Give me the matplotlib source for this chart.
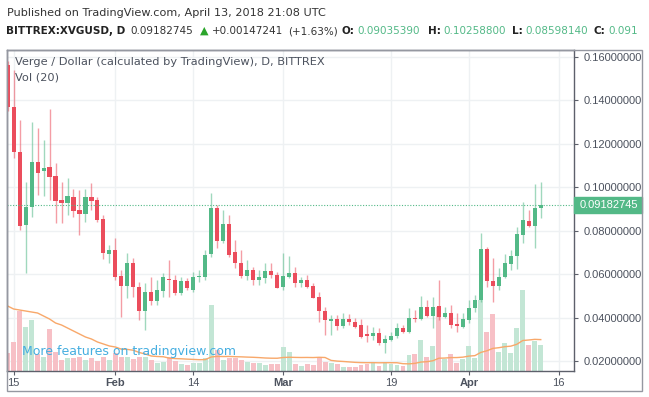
import numpy as np
import pandas as pd
import matplotlib
matplotlib.use('Agg')
import matplotlib.pyplot as plt
import matplotlib.dates as mdates
from matplotlib import transforms
from matplotlib.patches import Rectangle

# daily candles, BITTREX:XVGUSD, Jan 14 - Apr 13 2018
dates = pd.date_range('2018-01-14', '2018-04-13', freq='D')

opens = [0.1563, 0.1368, 0.1164, 0.0828, 0.0910, 0.1115, 0.1073, 0.1092, 0.1052, 0.0941,
         0.0929, 0.0955, 0.0895, 0.0877, 0.0955, 0.0941, 0.0852, 0.0694,
         0.0710, 0.0591, 0.0545, 0.0650, 0.0539, 0.0431, 0.0516, 0.0477, 0.0523, 0.0579,
         0.0573, 0.0514, 0.0568, 0.0527, 0.0586, 0.0588, 0.0691, 0.0906, 0.0754, 0.0829,
         0.0700, 0.0650, 0.0591, 0.0617, 0.0573, 0.0581, 0.0614, 0.0596,
         0.0539, 0.0588, 0.0604, 0.0560, 0.0573, 0.0545, 0.0496, 0.0431, 0.0386, 0.0392,
         0.0361, 0.0392, 0.0379, 0.0364, 0.0323, 0.0316, 0.0330, 0.0281, 0.0296, 0.0316,
         0.0350, 0.0335, 0.0398, 0.0392, 0.0447, 0.0407, 0.0453, 0.0404, 0.0422, 0.0370,
         0.0358,
         0.0389, 0.0442, 0.0481, 0.0714, 0.0570, 0.0545, 0.0585, 0.0647, 0.0685, 0.0780,
         0.0845, 0.0823, 0.0903539]
highs = [0.1580, 0.1540, 0.1310, 0.1026, 0.1299, 0.1272, 0.1218, 0.1359, 0.1110, 0.1026,
         0.1044, 0.0993, 0.0987, 0.0993, 0.1018, 0.0957, 0.0872, 0.0734,
         0.0765, 0.0619, 0.0699, 0.0673, 0.0565, 0.0558, 0.0588, 0.0573, 0.0604, 0.0665,
         0.0596, 0.0588, 0.0581, 0.0611, 0.0619, 0.0711, 0.0972, 0.0918, 0.0895, 0.0872,
         0.0757, 0.0711, 0.0665, 0.0634, 0.0619, 0.0650, 0.0650, 0.0611,
         0.0696, 0.0683, 0.0631, 0.0588, 0.0596, 0.0558, 0.0519, 0.0450, 0.0412, 0.0412,
         0.0420, 0.0415, 0.0400, 0.0392, 0.0366, 0.0358, 0.0350, 0.0320, 0.0335, 0.0377,
         0.0366, 0.0442, 0.0435, 0.0499, 0.0481, 0.0496, 0.0573, 0.0450, 0.0458, 0.0420,
         0.0420,
         0.0481, 0.0504, 0.0788, 0.0726, 0.0673, 0.0627, 0.0693, 0.0711, 0.0818, 0.0934,
         0.0895, 0.1015, 0.102588]
lows = [0.1350, 0.1135, 0.0803, 0.0604, 0.0864, 0.0964, 0.0960, 0.0941, 0.0834, 0.0834,
        0.0872, 0.0864, 0.0780, 0.0841, 0.0895, 0.0841, 0.0668, 0.0650,
        0.0573, 0.0404, 0.0489, 0.0496, 0.0389, 0.0343, 0.0458, 0.0458, 0.0496, 0.0496,
        0.0504, 0.0504, 0.0527, 0.0519, 0.0565, 0.0573, 0.0680, 0.0719, 0.0742, 0.0680,
        0.0627, 0.0581, 0.0573, 0.0550, 0.0550, 0.0558, 0.0581, 0.0535,
        0.0527, 0.0581, 0.0539, 0.0542, 0.0535, 0.0489, 0.0381, 0.0320, 0.0320, 0.0343,
        0.0350, 0.0366, 0.0350, 0.0304, 0.0289, 0.0296, 0.0275, 0.0238, 0.0292, 0.0304,
        0.0327, 0.0330, 0.0380, 0.0389, 0.0404, 0.0350, 0.0389, 0.0396, 0.0350, 0.0335,
        0.0350,
        0.0373, 0.0427, 0.0473, 0.0542, 0.0473, 0.0527, 0.0581, 0.0619, 0.0622, 0.0745,
        0.0818, 0.0719, 0.0859814]
closes = [0.1371, 0.1164, 0.0823, 0.0910, 0.1115, 0.1067, 0.1089, 0.1049, 0.0938, 0.0929,
          0.0960, 0.0892, 0.0877, 0.0955, 0.0938, 0.0849, 0.0699, 0.0710,
          0.0588, 0.0545, 0.0650, 0.0539, 0.0431, 0.0516, 0.0477, 0.0527, 0.0585, 0.0573,
          0.0514, 0.0568, 0.0535, 0.0588, 0.0591, 0.0688, 0.0906, 0.0754, 0.0829, 0.0688,
          0.0650, 0.0591, 0.0617, 0.0573, 0.0588, 0.0614, 0.0596, 0.0537,
          0.0591, 0.0604, 0.0560, 0.0573, 0.0539, 0.0491, 0.0431, 0.0389, 0.0392, 0.0361,
          0.0392, 0.0379, 0.0358, 0.0312, 0.0316, 0.0330, 0.0281, 0.0300, 0.0316, 0.0350,
          0.0335, 0.0396, 0.0392, 0.0447, 0.0407, 0.0447, 0.0404, 0.0422, 0.0366, 0.0362,
          0.0392,
          0.0442, 0.0481, 0.0714, 0.0570, 0.0545, 0.0585, 0.0650, 0.0685, 0.0785, 0.0849,
          0.0823, 0.09036, 0.09182745]
volumes = [18, 29, 60, 44, 51, 17, 14, 42, 19, 11, 13, 13, 14, 11, 13, 10, 14, 11,
           18, 14, 14, 12, 14, 14, 11, 8, 9, 14, 10, 7, 6, 8, 8, 13, 66, 21, 11, 13,
           13, 11, 9, 8, 8, 6, 7, 7,
           24, 19, 7, 5, 7, 6, 13, 9, 8, 7, 4, 4, 4, 6, 7, 9, 5, 8, 7, 6, 5, 16, 17,
           31, 14, 25, 64, 12, 17, 8, 12,
           25, 13, 71, 39, 57, 19, 28, 18, 43, 81, 26, 30, 26]
# Vol(20) average for the first 19 days (needs older data)
vol_ma_head = [65, 62, 61, 60, 59, 58, 55, 52, 48, 46, 43, 40, 37, 34, 32, 29, 27, 25, 24]

last_price = 0.09182745
price_ticks = [0.02, 0.04, 0.06, 0.08, 0.10, 0.12, 0.14, 0.16]
date_ticks = ['2018-01-15', '2018-02-01', '2018-02-14', '2018-03-01',
              '2018-03-19', '2018-04-01', '2018-04-16']
date_labels = ['15', 'Feb', '14', 'Mar', '19', 'Apr', '16']

up_col = '#53b987'
down_col = '#eb4d5c'
text_col = '#4c525e'

df = pd.DataFrame({'open': opens, 'high': highs, 'low': lows,
                   'close': closes, 'vol': volumes}, index=dates)
ma = df['vol'].rolling(20).mean()
ma.iloc[:19] = vol_ma_head

W, H = 649, 397
fig = plt.figure(figsize=(W / 100, H / 100), dpi=100)
fig.patch.set_facecolor('white')

def fx(px):
    return px / W

def fy(py):
    return 1 - py / H

# chart frame
fig.patches.append(Rectangle((fx(7), fy(391)), fx(642) - fx(7), fy(50) - fy(391),
                             transform=fig.transFigure, fill=False,
                             ec='#9598a1', lw=1, zorder=0))

ax = fig.add_axes([fx(7), fy(371), fx(574) - fx(7), fy(50) - fy(371)])
ax.set_facecolor('white')

x = mdates.date2num(df.index)
x0 = mdates.date2num(pd.Timestamp('2018-01-15'))
ax.set_xlim(x0 - 1.10, x0 + 93.55)
ax.set_ylim(0.01537, 0.16322)

# grid
for t in price_ticks:
    ax.axhline(t, color='#eef1f3', lw=1, zorder=0)
for d in date_ticks:
    ax.axvline(mdates.date2num(pd.Timestamp(d)), color='#eef1f3', lw=1, zorder=0)

up = df['close'] >= df['open']
colors = np.where(up, up_col, down_col)

# volume in the bottom part of the pane
vol_tr = transforms.blended_transform_factory(ax.transData, ax.transAxes)
vol_top = 321.0
vol_colors = np.where(up, '#c3e6d5', '#f7c0c6')
ax.bar(x, df['vol'] / vol_top, width=0.82, bottom=0, color=vol_colors,
       transform=vol_tr, zorder=1, linewidth=0)
ax.plot(x, ma / vol_top, color='#f8a86a', lw=1, transform=vol_tr, zorder=2)

# candles
ax.vlines(x, df['low'], df['high'], colors=colors, lw=1, alpha=0.55, zorder=3)
body_lo = np.minimum(df['open'], df['close'])
body_h = np.maximum(np.abs(df['close'] - df['open']), 0.0004)
ax.bar(x, body_h, width=0.68, bottom=body_lo, color=colors, linewidth=0, zorder=4)

# last price line
ax.axhline(last_price, color=up_col, lw=0.8, ls=(0, (1, 1.5)), zorder=5)

for s in ['left', 'bottom', 'right', 'top']:
    ax.spines[s].set_color('#5d606b')
    ax.spines[s].set_linewidth(1)

ax.yaxis.tick_right()
ax.set_yticks(price_ticks)
ax.set_yticklabels([f'{t:.8f}' for t in price_ticks])
ax.tick_params(axis='y', length=3, width=0.8, color='#5d606b', pad=4,
               labelsize=8, labelcolor=text_col)
ax.set_xticks([mdates.date2num(pd.Timestamp(d)) for d in date_ticks])
ax.set_xticklabels(date_labels)
ax.tick_params(axis='x', length=3, width=0.8, color='#5d606b', pad=2,
               labelsize=8, labelcolor=text_col)
for lbl in ax.get_xticklabels():
    lbl.set_fontfamily('Liberation Sans')
    if lbl.get_text() in ('Feb', 'Mar', 'Apr'):
        lbl.set_fontweight('bold')
for lbl in ax.get_yticklabels():
    lbl.set_fontfamily('Liberation Sans')

# last price tag on the scale
tag_tr = transforms.blended_transform_factory(ax.transAxes, ax.transData)
ax.add_patch(Rectangle((1.0, last_price - 0.0035), (642 - 574) / 567, 0.007,
                       transform=tag_tr, color=up_col, clip_on=False, zorder=6))
ax.text(1.0 + 6 / 567, last_price, f'{last_price:.8f}', transform=tag_tr,
        ha='left', va='center', color='white', fontsize=8,
        family='Liberation Sans', zorder=7)

# pane legend
fig.text(fx(15), fy(62), 'Verge / Dollar (calculated by TradingView), D, BITTREX',
         fontsize=8.2, color=text_col, va='center')
fig.text(fx(15), fy(77), 'Vol (20)', fontsize=8.2, color=text_col, va='center')
fig.text(fx(22), fy(352), 'More features on tradingview.com', fontsize=9,
         color='#45aee0', va='center', zorder=10)

# header
fig.text(fx(7), fy(13), 'Published on TradingView.com, April 13, 2018 21:08 UTC',
         fontsize=8.1, color='#333333', va='center')
hdr = [(6, 'BITTREX:XVGUSD, D', '#222222', 'bold'),
       (130, '0.09182745', '#333333', 'normal'),
       (212, '+0.00147241', '#333333', 'normal'),
       (288, '(+1.63%)', '#333333', 'normal'),
       (342, 'O:', '#222222', 'bold'), (357, '0.09035390', up_col, 'normal'),
       (428, 'H:', '#222222', 'bold'), (443, '0.10258800', up_col, 'normal'),
       (512, 'L:', '#222222', 'bold'), (525, '0.08598140', up_col, 'normal'),
       (594, 'C:', '#222222', 'bold'), (608, '0.091', up_col, 'normal')]
for px, s, c, w in hdr:
    fig.text(fx(px), fy(31), s, fontsize=7.5, color=c, fontweight=w, va='center')
fig.text(fx(200), fy(31), '\u25b2', fontsize=8, color='#2ba52b', va='center')

fig.savefig('out.png', dpi=100, facecolor=fig.get_facecolor())
